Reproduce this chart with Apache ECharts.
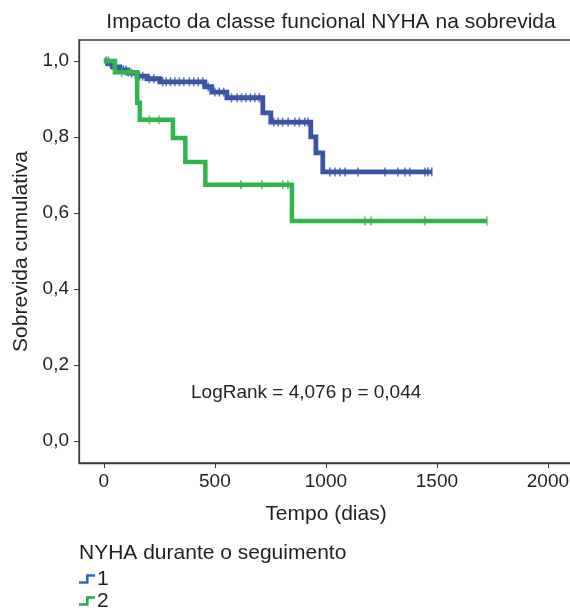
<!DOCTYPE html>
<html>
<head>
<meta charset="utf-8">
<script src="https://cdn.jsdelivr.net/npm/echarts@6/dist/echarts.min.js"></script>
<style>
  html, body { margin: 0; padding: 0; background: #fff; }
  #chart { width: 570px; height: 613px; }
</style>
</head>
<body>
<div id="chart"></div>
<script>
// Kaplan-Meier step data: event times (days) and cumulative survival after each step
const timesG1 = [0, 18, 40, 72, 108, 149, 194, 252, 455, 486, 554, 716, 752, 932, 955, 986, 1477];
const survG1  = [1.0, 0.992, 0.984, 0.976, 0.968, 0.960, 0.953, 0.945, 0.932, 0.918, 0.903, 0.863, 0.839, 0.800, 0.758, 0.708, 0.708];
const censorG1 = [10, 30, 55, 88, 100, 125, 160, 175, 205, 225, 265, 280, 300, 320, 340, 360, 385, 405, 425, 445,
                  470, 500, 520, 540, 575, 600, 620, 640, 660, 680, 700, 765, 785, 805, 830, 860, 880, 905, 920,
                  1018, 1041, 1063, 1086, 1144, 1266, 1324, 1356, 1378, 1446, 1459, 1477];

const timesG2 = [0, 50, 150, 162, 311, 367, 457, 847, 1725];
const survG2  = [1.0, 0.97, 0.89, 0.845, 0.797, 0.734, 0.674, 0.579, 0.579];
const censorG2 = [20, 80, 110, 205, 248, 617, 712, 806, 829, 1176, 1203, 1446, 1725];

const xTicks = [0, 500, 1000, 1500, 2000];
const yTicks = [0, 0.2, 0.4, 0.6, 0.8, 1.0];

const groupNames = ['1', '2'];
const lineColors = ['#3a55a6', '#2fb64b'];
const legendColors = ['#2b6fc2', '#2aa84a'];

const FONT = '"Liberation Sans", Arial, sans-serif';
const TEXT = '#231f20';

// survival value holding at time t for a step curve
function survAt(times, surv, t) {
  let s = surv[0];
  for (let i = 0; i < times.length; i++) {
    if (times[i] <= t) s = surv[i]; else break;
  }
  return s;
}

const stepG1 = timesG1.map((t, i) => [t, survG1[i]]);
const stepG2 = timesG2.map((t, i) => [t, survG2[i]]);
const marksG1 = censorG1.map(t => [t, survAt(timesG1, survG1, t)]);
const marksG2 = censorG2.map(t => [t, survAt(timesG2, survG2, t)]);

const stepIcon = 'path://M0,7 L7,7 L7,0 L16,0 L16,2.6 L9.6,2.6 L9.6,9.6 L0,9.6 Z';

// one legend block per group, stacked below the plot
const legends = groupNames.map((n, i) => ({
  orient: 'vertical', left: 79, top: 568 + i * 22, padding: 0,
  itemWidth: 16, itemHeight: 10, itemGap: 0,
  textStyle: { fontFamily: FONT, fontSize: 21, color: TEXT, lineHeight: 22, padding: [0, 0, 0, -3] },
  data: [{ name: n, icon: stepIcon, itemStyle: { color: legendColors[i] } }],
  selectedMode: false
}));

const chart = echarts.init(document.getElementById('chart'), null, { renderer: 'canvas' });

chart.setOption({
  animation: false,
  backgroundColor: '#ffffff',
  title: {
    text: 'Impacto da classe funcional NYHA na sobrevida',
    left: 326, top: 7, textAlign: 'center',
    textStyle: { fontFamily: FONT, fontSize: 21, fontWeight: 'normal', color: TEXT }
  },
  grid: {
    left: 79, top: 40, right: -3, bottom: 150,
    outerBoundsMode: 'none', containLabel: false,
    show: true, borderColor: '#3c3c3c', borderWidth: 1.3, backgroundColor: 'transparent'
  },
  xAxis: {
    type: 'value', min: -112, max: 2113,
    name: 'Tempo (dias)', nameLocation: 'middle', nameGap: 41,
    nameTextStyle: { fontFamily: FONT, fontSize: 21, color: TEXT },
    axisLine: { show: true, onZero: false, lineStyle: { color: '#3c3c3c', width: 1.3 } },
    axisTick: { show: true, length: 5, customValues: xTicks, lineStyle: { color: '#3c3c3c' } },
    axisLabel: {
      customValues: xTicks, fontFamily: FONT, fontSize: 19, color: TEXT, margin: 9,
      formatter: v => String(v)
    },
    splitLine: { show: false }
  },
  yAxis: {
    type: 'value', min: -0.058, max: 1.055,
    name: 'Sobrevida cumulativa', nameLocation: 'middle', nameGap: 46, nameRotate: 90,
    nameTextStyle: { fontFamily: FONT, fontSize: 21, color: TEXT },
    axisLine: { show: true, onZero: false, lineStyle: { color: '#3c3c3c', width: 1.3 } },
    axisTick: { show: true, length: 5, customValues: yTicks, lineStyle: { color: '#3c3c3c' } },
    axisLabel: {
      customValues: yTicks, fontFamily: FONT, fontSize: 19, color: TEXT, margin: 10,
      formatter: v => v.toFixed(1).replace('.', ',')
    },
    splitLine: { show: false }
  },
  legend: legends,
  graphic: [
    {
      type: 'text', left: 79, top: 543,
      style: { text: 'NYHA durante o seguimento', font: '21px ' + FONT, fill: TEXT }
    },
    {
      type: 'text', left: 191, top: 383,
      style: { text: 'LogRank = 4,076 p = 0,044', font: '19px ' + FONT, fill: TEXT }
    }
  ],
  series: [
    {
      name: '1', type: 'line', step: 'end', data: stepG1,
      showSymbol: false, z: 2,
      lineStyle: { color: lineColors[0], width: 4.8, join: 'miter' },
      itemStyle: { color: legendColors[0] }
    },
    {
      name: '1 censurado', type: 'scatter', data: marksG1, z: 3,
      symbol: 'rect', symbolSize: [1.6, 9],
      itemStyle: { color: lineColors[0] }
    },
    {
      name: '2', type: 'line', step: 'end', data: stepG2,
      showSymbol: false, z: 4,
      lineStyle: { color: lineColors[1], width: 4.5, join: 'miter' },
      itemStyle: { color: legendColors[1] }
    },
    {
      name: '2 censurado', type: 'scatter', data: marksG2, z: 5,
      symbol: 'rect', symbolSize: [1.6, 9],
      itemStyle: { color: lineColors[1] }
    }
  ]
});
</script>
</body>
</html>
